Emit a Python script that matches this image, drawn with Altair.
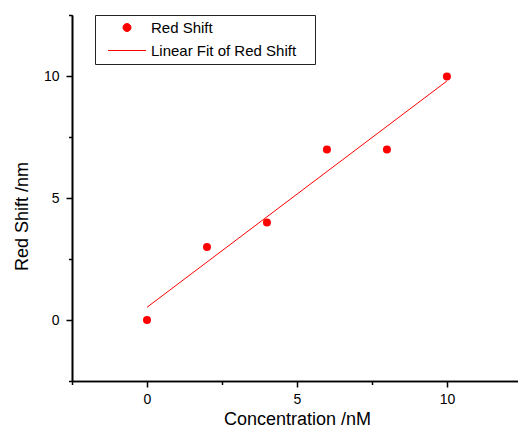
import altair as alt
import pandas as pd

# ---- data ----
concentration = [0, 2, 4, 6, 8, 10]
red_shift = [0, 3, 4, 7, 7, 10]
series_names = ["Red Shift", "Linear Fit of Red Shift"]
x_ticks = [0, 5, 10]
x_minor_ticks = [-2.5, 2.5, 7.5]
y_ticks = [0, 5, 10]
y_minor_ticks = [-2.5, 2.5, 7.5, 12.5]
x_domain = [-2.5, 12.37]
y_domain = [-2.5, 12.52]
fit_extent = [0, 10]

df = pd.DataFrame({"conc": concentration, "shift": red_shift})
legend_df = pd.DataFrame({"series": series_names})

FONT = "Liberation Sans"
RED = "#ff0000"

# legend symbol shapes (styles); the trailing move only widens the legend frame
CIRCLE_PATH = "M-0.8,0A0.8,0.8 0 1,0 0.8,0A0.8,0.8 0 1,0 -0.8,0Z"
LINE_PATH = "M-3.8,0H3.8M36.2,0"

xs = alt.Scale(domain=x_domain, nice=False, zero=False)
ys = alt.Scale(domain=y_domain, nice=False, zero=False)

fit = (
    alt.Chart(df)
    .transform_regression("conc", "shift", extent=fit_extent)
    .mark_line(color=RED, strokeWidth=1)
    .encode(
        x=alt.X("conc:Q", scale=xs, title=None,
                axis=alt.Axis(orient="bottom", values=x_minor_ticks, tickSize=3.5,
                              labels=False)),
        y=alt.Y("shift:Q", scale=ys, title=None,
                axis=alt.Axis(orient="left", values=y_minor_ticks, tickSize=3.5,
                              labels=False)),
    )
)

points = (
    alt.Chart(df)
    .mark_circle(size=64, color=RED, opacity=1)
    .encode(
        x=alt.X("conc:Q", scale=xs,
                axis=alt.Axis(orient="bottom", values=x_ticks, tickSize=6,
                              labelPadding=5, labelFontSize=14,
                              title="Concentration /nM", titleFontSize=18,
                              titleX=225, titleY=43.5, titleBaseline="alphabetic",
                              titleAlign="center")),
        y=alt.Y("shift:Q", scale=ys,
                axis=alt.Axis(orient="left", values=y_ticks, tickSize=6,
                              labelPadding=7, labelFontSize=14,
                              title="Red Shift /nm", titleFontSize=18,
                              titleAngle=270, titleX=-45, titleY=201,
                              titleBaseline="alphabetic", titleAlign="center")),
    )
)

legend_def = alt.Legend(
    title=None, orient="none", legendX=23, legendY=0,
    padding=5, rowPadding=7, symbolOffset=19.5, labelOffset=16.5,
    symbolSize=100, symbolStrokeColor=RED, symbolStrokeWidth=1,
    labelFont=FONT, labelFontSize=15, labelColor="black", labelLimit=300,
    strokeColor="#222222", fillColor="white", cornerRadius=0,
)

legend_layer = (
    alt.Chart(legend_df)
    .transform_filter("false")
    .mark_point(filled=True, size=100, opacity=1)
    .encode(
        color=alt.Color("series:N",
                        scale=alt.Scale(domain=series_names, range=[RED, RED]),
                        legend=legend_def),
        shape=alt.Shape("series:N",
                        scale=alt.Scale(domain=series_names, range=[CIRCLE_PATH, LINE_PATH]),
                        legend=legend_def),
    )
)

chart = (
    alt.layer(fit, points, legend_layer)
    .resolve_axis(x="independent", y="independent")
    .properties(
        width=446, height=366,
        padding={"left": 64, "top": 7, "right": 0, "bottom": 48},
        autosize=alt.AutoSizeParams(type="none"),
    )
    .configure_view(stroke=None)
    .configure_axis(
        domainColor="black", domainWidth=1.6, tickColor="black", tickWidth=1.5,
        labelFont=FONT, labelColor="black", titleFont=FONT, titleColor="black",
        titleFontWeight="normal", grid=False,
    )
)

chart.save("out.html", embed_options={"renderer": "svg", "actions": False})
